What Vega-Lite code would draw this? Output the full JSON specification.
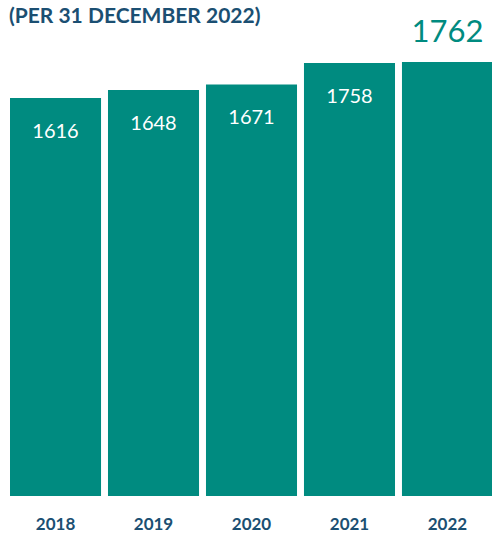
{
  "$schema": "https://vega.github.io/schema/vega-lite/v6.json",
  "width": 483,
  "height": 465,
  "padding": {"left": 9, "top": 6, "right": 0, "bottom": 0},
  "autosize": {"type": "pad"},
  "title": {
    "text": "(PER 31 DECEMBER 2022)",
    "anchor": "start",
    "frame": "group",
    "font": "Lato",
    "fontSize": 21,
    "fontWeight": "bold",
    "color": "#1b4f72",
    "offset": -3,
    "dx": -1,
    "dy": 7
  },
  "data": {
    "values": [
      {"year": "2018", "value": 1616},
      {"year": "2019", "value": 1648},
      {"year": "2020", "value": 1671},
      {"year": "2021", "value": 1758},
      {"year": "2022", "value": 1762}
    ]
  },
  "encoding": {
    "x": {
      "field": "year",
      "type": "ordinal",
      "scale": {"paddingInner": 0.071, "paddingOuter": 0},
      "axis": {
        "title": null,
        "labelAngle": 0,
        "domain": false,
        "ticks": false,
        "labelFont": "Lato",
        "labelFontSize": 17,
        "labelFontWeight": "bold",
        "labelColor": "#1b4f72",
        "labelPadding": 20,
        "labelBaseline": "top"
      }
    },
    "y": {
      "field": "value",
      "type": "quantitative",
      "scale": {"domain": [0, 1888], "nice": false},
      "axis": null
    }
  },
  "layer": [
    {"mark": {"type": "bar", "color": "#008b80"}},
    {
      "transform": [{"filter": "datum.year != '2022'"}],
      "mark": {"type": "text", "color": "white", "font": "Lato", "fontSize": 20, "baseline": "alphabetic", "dy": 40},
      "encoding": {"text": {"field": "value", "type": "nominal"}}
    },
    {
      "transform": [{"filter": "datum.year == '2022'"}],
      "mark": {"type": "text", "color": "#008b80", "font": "Lato", "fontSize": 31, "baseline": "alphabetic", "dy": -20},
      "encoding": {"text": {"field": "value", "type": "nominal"}}
    }
  ],
  "config": {"view": {"stroke": null}}
}
